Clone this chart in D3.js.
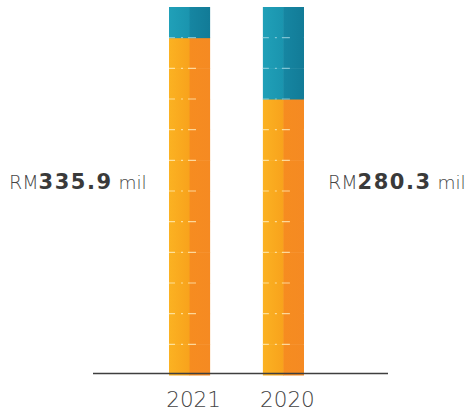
<!DOCTYPE html>
<html>
<head>
<meta charset="utf-8">
<script src="https://cdn.jsdelivr.net/npm/d3@7"></script>
<style>
  html, body { margin: 0; padding: 0; background: #ffffff; }
  svg { display: block; }
</style>
</head>
<body>
<svg id="chart" width="470" height="414"></svg>
<script>
// Yearly totals shown as stacks of cubes
const years = ["2021", "2020"];
const orangeCubes = [11, 9];
const tealCubes = [1, 3];
const totals = [335.9, 280.3];
const maxCubes = 12;

const svg = d3.select("#chart");

const x = d3.scaleBand().domain(years).range([169, 304]).paddingInner(0.562).paddingOuter(0);
const y = d3.scaleLinear().domain([0, maxCubes]).range([375, 7]);

// face gradients
const defs = svg.append("defs");
const grads = {
  oL: ["#fbb222", "#f8a21c"],
  oR: ["#f68c20", "#f58a22"],
  tL: ["#20a0b8", "#1a94ae"],
  tR: ["#1686a2", "#127b97"]
};
Object.entries(grads).forEach(([id, c]) => {
  const g = defs.append("linearGradient").attr("id", id).attr("x1", "0").attr("x2", "1").attr("y1", "0").attr("y2", "0");
  g.append("stop").attr("offset", "0%").attr("stop-color", c[0]);
  g.append("stop").attr("offset", "100%").attr("stop-color", c[1]);
});

const cubes = [];
years.forEach((yr, i) => {
  const n = orangeCubes[i] + tealCubes[i];
  for (let k = 0; k < n; k++) {
    cubes.push({ year: yr, k, kind: k < orangeCubes[i] ? "o" : "t" });
  }
});

const g = svg.append("g");
const cube = g.selectAll("g.cube").data(cubes).join("g").attr("class", "cube");
cube.append("rect")
  .attr("x", d => x(d.year))
  .attr("y", d => y(d.k + 1))
  .attr("width", x.bandwidth() / 2 + 0.5)
  .attr("height", d => y(d.k) - y(d.k + 1) + 0.5)
  .attr("fill", d => `url(#${d.kind}L)`);
cube.append("rect")
  .attr("x", d => x(d.year) + x.bandwidth() / 2)
  .attr("y", d => y(d.k + 1))
  .attr("width", x.bandwidth() / 2)
  .attr("height", d => y(d.k) - y(d.k + 1) + 0.5)
  .attr("fill", d => `url(#${d.kind}R)`);

// light seams between stacked cubes
cube.filter(d => d.k > 0).append("line")
  .attr("x1", d => x(d.year))
  .attr("x2", d => x(d.year) + x.bandwidth())
  .attr("y1", d => y(d.k))
  .attr("y2", d => y(d.k))
  .attr("stroke", d => d.kind === "o" ? "#fff0c0" : "#9fd6e2")
  .attr("stroke-width", 1.2)
  .attr("stroke-dasharray", "6 6 2 5 8 14")
  .attr("opacity", 0.75);

// baseline
svg.append("line")
  .attr("x1", 93).attr("x2", 388)
  .attr("y1", 373.5).attr("y2", 373.5)
  .attr("stroke", "#3f3f3f").attr("stroke-width", 1.5);

// year labels
const axis = d3.axisBottom(x).tickSize(0).tickPadding(0);
const ax = svg.append("g").attr("transform", "translate(4,407)").call(axis);
ax.select(".domain").remove();
ax.selectAll("text")
  .attr("y", 0)
  .attr("dy", 0)
  .style("font-family", "'DejaVu Sans', sans-serif")
  .style("font-weight", 200)
  .style("font-size", "21.5px")
  .style("fill", "#444");

// value labels
const labelPos = [{ x: 9, y: 189 }, { x: 328, y: 189 }];
years.forEach((yr, i) => {
  const t = svg.append("text")
    .attr("x", labelPos[i].x).attr("y", labelPos[i].y)
    .style("font-family", "'DejaVu Sans', sans-serif")
    .style("fill", "#444");
  t.append("tspan").text("RM").style("font-size", "19px").style("font-weight", 200);
  t.append("tspan").text(d3.format(".1f")(totals[i]))
    .style("font-size", "21px").style("font-weight", 700)
    .style("letter-spacing", "1.5px").style("fill", "#3a3a3a");
  t.append("tspan").text(" mil").style("font-size", "18.5px").style("font-weight", 200);
});
</script>
</body>
</html>
